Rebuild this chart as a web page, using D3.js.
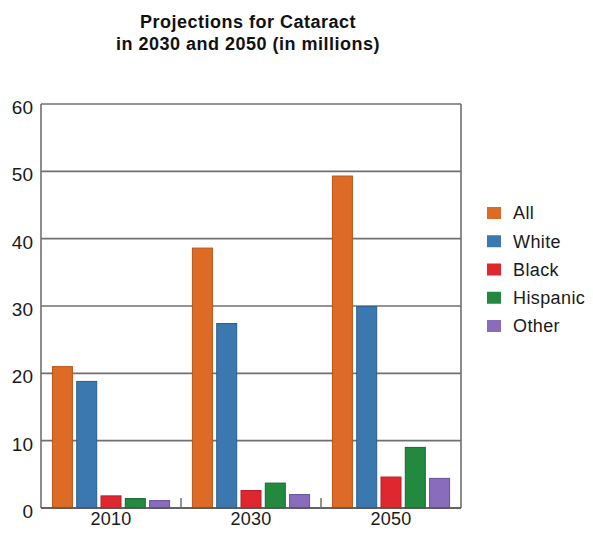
<!DOCTYPE html>
<html>
<head>
<meta charset="utf-8">
<script src="https://cdn.jsdelivr.net/npm/d3@7"></script>
<style>
  body { margin: 0; background: #fff; }
  svg { display: block; font-family: "Liberation Sans", Arial, Helvetica, sans-serif; }
</style>
</head>
<body>
<svg id="chart" width="593" height="534"></svg>
<script>
// data
const years = ["2010", "2030", "2050"]
const groups = ["All", "White", "Black", "Hispanic", "Other"]
const all = [21.0, 38.6, 49.3]
const white = [18.8, 27.4, 29.9]
const black = [1.8, 2.6, 4.6]
const hispanic = [1.4, 3.7, 9.0]
const other = [1.1, 2.0, 4.4]
const yTicks = [0, 10, 20, 30, 40, 50, 60]

const series = [all, white, black, hispanic, other]
const colors = ["#de6b25", "#3b78b0", "#df2730", "#23893e", "#8a6cbd"]
const strokes = ["#b9541a", "#2a5f8e", "#b81d25", "#17692d", "#6b5299"]

const svg = d3.select("#chart")

const plotLeft = 41, plotRight = 461, plotTop = 104, plotBottom = 508

const x = d3.scaleBand().domain(years).range([plotLeft, plotRight]).padding(0)
const xInner = d3.scaleBand().domain(groups).range([0, x.bandwidth()])
  .paddingInner(0.177).paddingOuter(0.47)
const y = d3.scaleLinear().domain([0, 60]).range([plotBottom, plotTop])

// title
const title = svg.append("text")
  .attr("text-anchor", "middle")
  .attr("font-weight", "bold")
  .attr("font-size", "18px")
  .attr("letter-spacing", "0.5px")
  .attr("fill", "#111")
title.append("tspan").attr("x", 248).attr("y", 28).text("Projections for Cataract")
title.append("tspan").attr("x", 248).attr("y", 50).text("in 2030 and 2050 (in millions)")

// gridlines
svg.append("g")
  .selectAll("line")
  .data(yTicks)
  .join("line")
  .attr("x1", plotLeft)
  .attr("x2", plotRight)
  .attr("y1", d => y(d))
  .attr("y2", d => y(d))
  .attr("stroke", "#707070")
  .attr("stroke-width", 1.6)

// frame sides
svg.append("line")
  .attr("x1", plotLeft).attr("x2", plotLeft)
  .attr("y1", plotTop).attr("y2", plotBottom)
  .attr("stroke", "#707070").attr("stroke-width", 1.6)
svg.append("line")
  .attr("x1", plotRight).attr("x2", plotRight)
  .attr("y1", plotTop).attr("y2", plotBottom)
  .attr("stroke", "#707070").attr("stroke-width", 1.6)

// bars
groups.forEach((g, gi) => {
  svg.append("g")
    .selectAll("rect")
    .data(series[gi])
    .join("rect")
    .attr("x", (d, i) => x(years[i]) + xInner(g))
    .attr("y", d => y(d))
    .attr("width", xInner.bandwidth())
    .attr("height", d => y(0) - y(d))
    .attr("fill", colors[gi])
    .attr("stroke", strokes[gi])
    .attr("stroke-width", 1)
})

// baseline redrawn over bars
svg.append("line")
  .attr("x1", plotLeft).attr("x2", plotRight)
  .attr("y1", y(0)).attr("y2", y(0))
  .attr("stroke", "#555").attr("stroke-width", 1.6)

// small ticks between year groups
svg.append("g")
  .selectAll("line")
  .data(years.slice(1))
  .join("line")
  .attr("x1", d => x(d))
  .attr("x2", d => x(d))
  .attr("y1", y(0) - 10)
  .attr("y2", y(0))
  .attr("stroke", "#666")
  .attr("stroke-width", 1.4)

// y axis labels
const yAxis = svg.append("g")
  .attr("transform", `translate(${plotLeft},0)`)
  .call(d3.axisLeft(y).tickValues(yTicks).tickSize(0).tickPadding(8))
yAxis.select(".domain").remove()
yAxis.selectAll("text")
  .attr("font-size", "19px")
  .attr("font-family", "\"Liberation Sans\", Arial, sans-serif")
  .attr("fill", "#1a1a1a")
  .attr("dy", "0.5em")

// x axis labels
const xAxis = svg.append("g")
  .attr("transform", `translate(0,${plotBottom})`)
  .call(d3.axisBottom(x).tickSize(0).tickPadding(4))
xAxis.select(".domain").remove()
xAxis.selectAll("text")
  .attr("font-size", "18px")
  .attr("letter-spacing", "0.3px")
  .attr("font-family", "\"Liberation Sans\", Arial, sans-serif")
  .attr("fill", "#1a1a1a")

// legend
const legendY = d3.scalePoint().domain(groups).range([213, 326])
const legend = svg.append("g")
  .selectAll("g")
  .data(groups)
  .join("g")
  .attr("transform", d => `translate(487,${legendY(d)})`)
legend.append("rect")
  .attr("x", 0).attr("y", -6)
  .attr("width", 14).attr("height", 12)
  .attr("fill", (d, i) => colors[i])
legend.append("text")
  .attr("x", 26).attr("y", 0)
  .attr("dy", "0.36em")
  .attr("font-size", "18px")
  .attr("letter-spacing", "0.4px")
  .attr("fill", "#1a1a1a")
  .text(d => d)
</script>
</body>
</html>
